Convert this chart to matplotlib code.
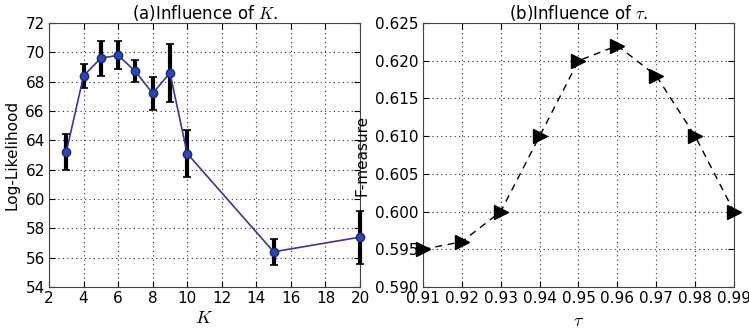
import matplotlib
matplotlib.use("Agg")
import matplotlib.pyplot as plt

plt.rcParams['font.family'] = ['DejaVu Sans']
plt.rcParams['mathtext.fontset'] = 'cm'
plt.rcParams['font.size'] = 11

K = [3, 4, 5, 6, 7, 8, 9, 10, 15, 20]
loglik = [63.2, 68.4, 69.6, 69.8, 68.7, 67.2, 68.6, 63.1, 56.4, 57.4]
loglik_err = [1.2, 0.8, 1.2, 0.95, 0.75, 1.1, 2.0, 1.6, 0.9, 1.8]

tau = [0.91, 0.92, 0.93, 0.94, 0.95, 0.96, 0.97, 0.98, 0.99]
fmeasure = [0.595, 0.596, 0.600, 0.610, 0.620, 0.622, 0.618, 0.610, 0.600]

fig = plt.figure(figsize=(7.49, 3.31), dpi=100)
ax1 = fig.add_axes([49/749, 1-287/331, 311/749, 264/331])
ax2 = fig.add_axes([423/749, 1-287/331, 311/749, 264/331])

for ax in (ax1, ax2):
    ax.grid(True, linestyle=(0, (1, 3)), color='#333333', linewidth=0.8)
    ax.tick_params(direction='in', top=True, right=True, length=4, width=0.8, pad=3)
    for s in ax.spines.values():
        s.set_color('#444444')

ax1.errorbar(K, loglik, yerr=loglik_err, color='#3a34a8', linewidth=1.2,
             marker='o', markersize=6, markerfacecolor='#2a48b0', markeredgecolor='#1a2a80',
             ecolor='black', elinewidth=3, capsize=3, capthick=1.2, clip_on=False, zorder=3)
ax1.set_xlim(2, 20)
ax1.set_ylim(54, 72)
ax1.set_xticks(range(2, 21, 2))
ax1.set_yticks(range(54, 73, 2))
ax1.set_xlabel('$K$', fontsize=13, labelpad=2)
ax1.set_ylabel('Log-Likelihood')
ax1.set_title('(a)Influence of $K$.', fontsize=12, pad=3)

ax2.plot(tau, fmeasure, color='black', linestyle=(0, (5, 4)), linewidth=1.0,
         marker='>', markersize=10, clip_on=False, zorder=3)
ax2.set_xlim(0.91, 0.99)
ax2.set_ylim(0.590, 0.625)
ax2.set_xticks(tau)
ax2.set_xticklabels(['%.2f' % t for t in tau])
yt = [0.590, 0.595, 0.600, 0.605, 0.610, 0.615, 0.620, 0.625]
ax2.set_yticks(yt)
ax2.set_yticklabels(['%.3f' % v for v in yt])
ax2.set_xlabel(r'$\tau$', fontsize=13, labelpad=4)
ax2.set_ylabel('F-measure')
ax2.set_title(r'(b)Influence of $\tau$.', fontsize=12, pad=3)

fig.savefig('out.png', dpi=100)
